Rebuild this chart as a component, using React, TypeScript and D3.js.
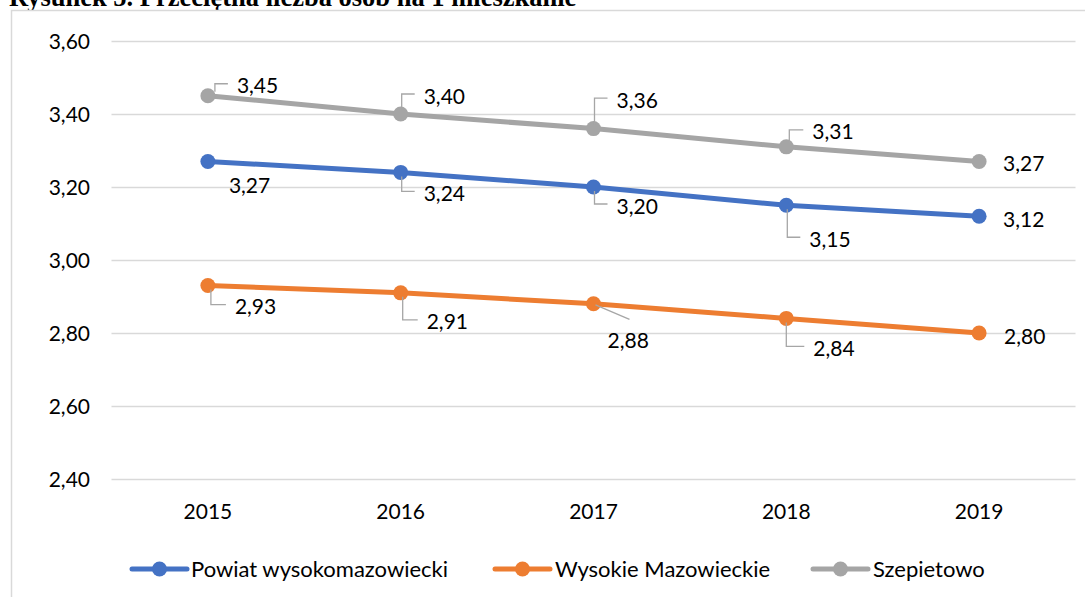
import React from "react";
import * as d3 from "d3";

const years = ["2015", "2016", "2017", "2018", "2019"];
const seriesNames = ["Powiat wysokomazowiecki", "Wysokie Mazowieckie", "Szepietowo"];
const powiat = [3.27, 3.24, 3.2, 3.15, 3.12];
const wysokie = [2.93, 2.91, 2.88, 2.84, 2.8];
const szepietowo = [3.45, 3.4, 3.36, 3.31, 3.27];
const yTicks = [2.4, 2.6, 2.8, 3.0, 3.2, 3.4, 3.6];
const colors = ["#4472C4", "#ED7D31", "#A5A5A5"];

// label layout: [dx to text left, dy to text centre, leader type, leader x offset]
type Lab = [number, number, string, number];
const powiatLabels: Lab[] = [
  [21, 24, "none", 0],
  [23, 21, "elbow", 1],
  [23, 19, "elbow", 1],
  [23, 34, "elbow", 1],
  [24, 3, "none", 0],
];
const wysokieLabels: Lab[] = [
  [27, 21, "elbow", 3],
  [26, 29, "elbow", 2],
  [14, 36.5, "diag", 0],
  [27, 30, "elbow", 0],
  [25, 3, "none", 0],
];
const szepLabels: Lab[] = [
  [29, -10, "elbow", 7],
  [23, -18, "elbow", 1],
  [23, -28.5, "elbow", 1],
  [26, -15, "elbow", 3],
  [24, 1.5, "none", 0],
];

const FONT = "Lato, 'Open Sans', sans-serif";
const fmt = (v: number) => v.toFixed(2).replace(".", ",");

export default function App() {
  const W = 1085;
  const H = 597;
  const x = d3.scaleBand<string>().domain(years).range([111.5, 1075.5]);
  const cx = (yr: string) => (x(yr) as number) + x.bandwidth() / 2;
  const y = d3.scaleLinear().domain([2.4, 3.6]).range([479, 41]);
  const [gridX0, gridX1] = x.range();
  const series = [
    { name: seriesNames[0], values: powiat, labels: powiatLabels, color: colors[0] },
    { name: seriesNames[1], values: wysokie, labels: wysokieLabels, color: colors[1] },
    { name: seriesNames[2], values: szepietowo, labels: szepLabels, color: colors[2] },
  ];
  const line = d3
    .line<number>()
    .x((_, i) => cx(years[i]))
    .y((d) => y(d));

  const legendItems = [
    { x0: 132, tx: 191 },
    { x0: 495, tx: 555 },
    { x0: 813, tx: 873 },
  ];
  const LY = 569;

  return (
    <svg
      width={W}
      height={H}
      style={{ position: "absolute", left: 0, top: 0, background: "#fff" }}
    >
      <text
        x={9}
        y={5.5}
        fontFamily="'Liberation Serif', 'Times New Roman', serif"
        fontWeight="bold"
        fontSize={26.5}
        fill="#000"
      >
        Rysunek 5. Przeciętna liczba osób na 1 mieszkanie
      </text>
      <rect x={11.5} y={10.5} width={1100} height={620} fill="#fff" stroke="#d9d9d9" strokeWidth={1.5} />
      {yTicks.map((t) => (
        <g key={t}>
          <line
            x1={gridX0}
            x2={gridX1}
            y1={Math.round(y(t)) + 0.5}
            y2={Math.round(y(t)) + 0.5}
            stroke="#d9d9d9"
            strokeWidth={1.3}
          />
          <text
            x={90}
            y={y(t)}
            dy="0.36em"
            textAnchor="end"
            fontFamily={FONT}
            fontSize={21}
            fill="#000"
          >
            {fmt(t)}
          </text>
        </g>
      ))}
      {years.map((yr) => (
        <text
          key={yr}
          x={cx(yr)}
          y={511}
          dy="0.36em"
          textAnchor="middle"
          fontFamily={FONT}
          fontSize={21}
          fill="#000"
        >
          {yr}
        </text>
      ))}
      {series.map((s) => (
        <g key={s.name}>
          <path d={line(s.values) || ""} fill="none" stroke={s.color} strokeWidth={5} strokeLinecap="round" />
          {s.values.map((v, i) => (
            <circle key={i} cx={cx(years[i])} cy={y(v)} r={7.5} fill={s.color} />
          ))}
        </g>
      ))}
      {series.map((s) =>
        s.values.map((v, i) => {
          const px = cx(years[i]);
          const py = y(v);
          const [dx, dy, kind, lx] = s.labels[i];
          const tx = px + dx;
          const ty = py + dy;
          let leader = null;
          if (kind === "elbow") {
            const ly = ty - 2;
            const sx = px + lx;
            const sy = py + (dy < 0 ? -4 : 4);
            leader = (
              <polyline
                points={`${sx},${sy} ${sx},${ly} ${tx - 9},${ly}`}
                fill="none"
                stroke="#a6a6a6"
                strokeWidth={1.3}
              />
            );
          } else if (kind === "diag") {
            leader = (
              <line x1={px + 2} y1={py + 1} x2={tx + 22} y2={ty - 21} stroke="#a6a6a6" strokeWidth={1.3} />
            );
          }
          return (
            <g key={s.name + i}>
              {leader}
              <text x={tx} y={ty} dy="0.36em" fontFamily={FONT} fontSize={21} fill="#000">
                {fmt(v)}
              </text>
            </g>
          );
        })
      )}
      {series.map((s, i) => {
        const it = legendItems[i];
        return (
          <g key={"lg" + s.name}>
            <line x1={it.x0} x2={it.x0 + 55} y1={LY} y2={LY} stroke={s.color} strokeWidth={5} strokeLinecap="round" />
            <circle cx={it.x0 + 27.5} cy={LY} r={7.5} fill={s.color} />
            <text x={it.tx} y={LY} dy="0.36em" fontFamily={FONT} fontSize={22} fill="#000">
              {s.name}
            </text>
          </g>
        );
      })}
    </svg>
  );
}
